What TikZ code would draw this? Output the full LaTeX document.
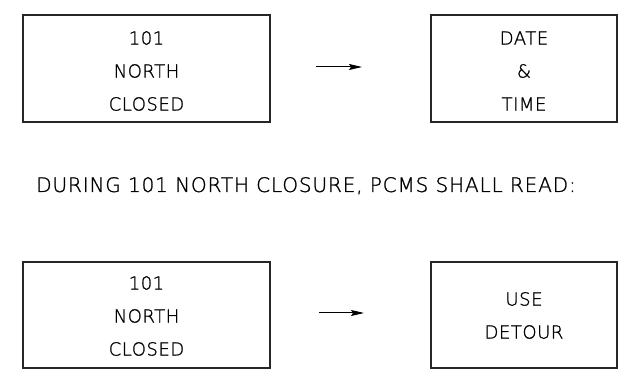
\documentclass[tikz,border=0pt]{standalone}
\usepackage{fontspec}
\newfontfamily\cadfont[FakeBold=1.2, LetterSpace=3]{DejaVu Sans ExtraLight}
\newfontfamily\cadnote[FakeBold=1.2, LetterSpace=4.3]{DejaVu Sans ExtraLight}
\usetikzlibrary{arrows.meta}
\begin{document}
\begin{tikzpicture}[x=1pt,y=1pt,
  signbox/.style={draw=black!85, line width=1.1pt, minimum width=#1, minimum height=107pt, inner sep=0pt},
  signtext/.style={font=\cadfont\fontsize{18}{33}\selectfont, align=center, inner sep=0pt},
  note/.style={font=\cadnote\fontsize{20}{24}\selectfont, inner sep=0pt, anchor=base},
  flow/.style={line width=1pt, -{Stealth[length=13pt,width=6pt,inset=2pt]}}]
\useasboundingbox (0,0) rectangle (622,-371);
% boxes
\node[signbox=247pt] (b1) at (146.5,-68.5) {};
\node[signbox=186pt] (b2) at (524,-68.5) {};
\node[signbox=247pt, minimum height=106pt] (b3) at (146.5,-315) {};
\node[signbox=186pt, minimum height=106pt] (b4) at (524,-315) {};
% texts
\node[signtext] (t1) at ([yshift=-2.5pt]b1.center) {101\\NORTH\\CLOSED};
\node[signtext] (t2) at ([yshift=-2.5pt]b2.center) {DATE\\\&\\TIME};
\node[signtext] (t3) at ([yshift=-1pt]b3.center) {101\\NORTH\\CLOSED};
\node[signtext] (t4) at ([yshift=-0.5pt]b4.center) {USE\\DETOUR};
\node[note] (mid) at (306,-192) {DURING 101 NORTH CLOSURE, PCMS SHALL READ:};
% arrows
\coordinate (a1s) at (316,-67);
\coordinate (a1e) at (362,-67);
\coordinate (a2s) at (319,-313);
\coordinate (a2e) at (364,-313);
\draw[flow] (a1s) -- (a1e);
\draw[flow] (a2s) -- (a2e);
\end{tikzpicture}
\end{document}
